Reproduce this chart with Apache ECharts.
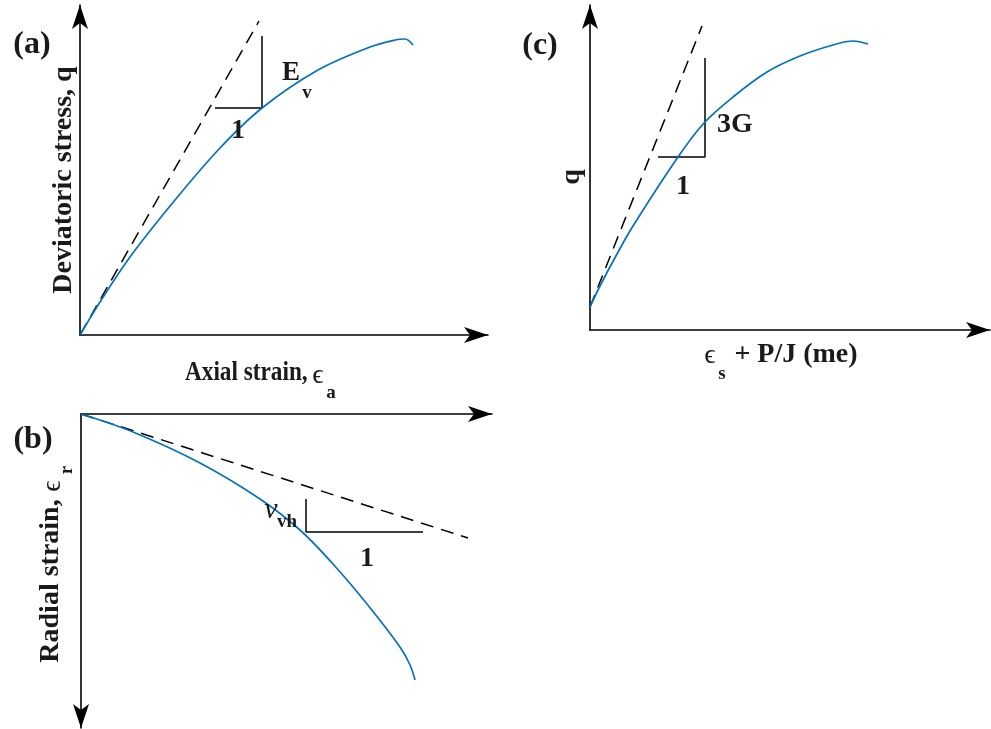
<!DOCTYPE html>
<html>
<head>
<meta charset="utf-8">
<script src="https://cdn.jsdelivr.net/npm/echarts@6/dist/echarts.min.js"></script>
<style>
html,body{margin:0;padding:0;background:#fff;}
#c{width:991px;height:729px;}
</style>
</head>
<body>
<div id="c"></div>
<script>
// ---------------- DATA ----------------
// Panel (a): deviatoric stress q vs axial strain
const curveA_x = [0, 20, 50, 95, 140, 182, 238, 290, 315, 325, 333];
const curveA_y = [0, 33, 78, 135, 187, 227, 265, 288, 295, 296, 290];
const tangentA_x = [0, 179];
const tangentA_y = [0, 314];
const slopeA_x = [135, 182, 182];
const slopeA_y = [227, 227, 299];

// Panel (b): radial strain vs axial strain (radial strain grows downward)
const curveB_x = [0, 52, 119, 179, 219, 252, 286, 319, 329, 334];
const curveB_y = [0, 18, 49, 85, 116, 150, 190, 233, 251, 266];
const tangentB_x = [0, 387];
const tangentB_y = [0, 124];
const slopeB_x = [225, 225, 342];
const slopeB_y = [85, 118, 118];

// Panel (c): q vs eps_s + P/J
const curveC_x = [0, 10, 27, 43, 88, 114, 143, 177, 210, 243, 263, 278];
const curveC_y = [23, 44, 76, 104, 173, 207, 233, 258, 274, 285, 289, 286];
const tangentC_x = [0, 112];
const tangentC_y = [23, 304];
const slopeC_x = [68, 115, 115];
const slopeC_y = [173, 173, 272];

// Axis extents (no ticks are shown in the reference)
const axisMaxA = [408, 330];
const axisMaxB = [411, 314];
const axisMaxC = [400, 325];

// Text content
const panelLabels = ['(a)', '(b)', '(c)'];
const titleA_y = 'Deviatoric stress, q';
const titleA_x = 'Axial strain,';
const titleB_y = 'Radial strain,';
const titleC_y = 'q';
const titleC_x = '+ P/J (me)';
const epsGlyph = '\u03F5';
const slopeLabelsA = ['E', 'v', '1'];
const slopeLabelsB = ['\u03BD', 'vh', '1'];
const slopeLabelsC = ['3G', '1'];

// ---------------- helpers ----------------
function zip(xs, ys) { return xs.map((x, i) => [x, ys[i]]); }

const BLUE = '#0072BD';
const INK = '#1a1a1a';
const SERIF = "'Liberation Serif','Times New Roman','DejaVu Serif',serif";

function makeAxis(gridIndex, max, extra, arrowAtStart) {
  return Object.assign({
    type: 'value', gridIndex: gridIndex, min: 0, max: max,
    axisLine: { show: true, onZero: false,
                symbol: arrowAtStart ? ['arrow', 'none'] : ['none', 'arrow'], symbolSize: [12, 24],
                lineStyle: { color: '#000', width: 1.6 } },
    axisTick: { show: false }, axisLabel: { show: false }, splitLine: { show: false }
  }, extra || {});
}

function curve(xi, yi, data) {
  return { type: 'line', xAxisIndex: xi, yAxisIndex: yi, data: data, smooth: 0.35,
           showSymbol: false, silent: true, lineStyle: { color: BLUE, width: 1.7 }, z: 3 };
}
function dashed(xi, yi, data) {
  return { type: 'line', xAxisIndex: xi, yAxisIndex: yi, data: data, showSymbol: false, silent: true,
           lineStyle: { color: '#000', width: 1.5, type: [13, 8] }, z: 2 };
}
function solid(xi, yi, data) {
  return { type: 'line', xAxisIndex: xi, yAxisIndex: yi, data: data, showSymbol: false, silent: true,
           lineStyle: { color: '#000', width: 1.5 }, z: 2 };
}

const chart = echarts.init(document.getElementById('c'), null, { renderer: 'canvas' });

const option = {
  animation: false,
  backgroundColor: '#fff',
  grid: [
    { left: 80, top: 5, right: 503, bottom: 394 },
    { left: 81, top: 414, right: 499, bottom: 1 },
    { left: 590, top: 5, right: 1, bottom: 399 }
  ],
  xAxis: [
    makeAxis(0, axisMaxA[0]),
    makeAxis(1, axisMaxB[0], { position: 'top' }),
    makeAxis(2, axisMaxC[0])
  ],
  yAxis: [
    makeAxis(0, axisMaxA[1]),
    makeAxis(1, axisMaxB[1], { inverse: true }, true),
    makeAxis(2, axisMaxC[1])
  ],
  series: [
    dashed(0, 0, zip(tangentA_x, tangentA_y)),
    solid(0, 0, zip(slopeA_x, slopeA_y)),
    curve(0, 0, zip(curveA_x, curveA_y)),
    dashed(1, 1, zip(tangentB_x, tangentB_y)),
    solid(1, 1, zip(slopeB_x, slopeB_y)),
    curve(1, 1, zip(curveB_x, curveB_y)),
    dashed(2, 2, zip(tangentC_x, tangentC_y)),
    solid(2, 2, zip(slopeC_x, slopeC_y)),
    curve(2, 2, zip(curveC_x, curveC_y))
  ]
};
chart.setOption(option);

// ---------------- text layout ----------------
function txt(text, x, y, size, opts) {
  opts = opts || {};
  return {
    type: 'text', x: x, y: y, rotation: opts.rot || 0, scaleX: opts.sx || 1, scaleY: opts.sy || 1,
    z: 10, silent: true,
    style: {
      text: text,
      font: (opts.italic ? 'italic ' : '') + (opts.normal ? 'normal ' : 'bold ') + size + 'px ' + SERIF,
      fill: INK, textAlign: opts.align || 'center', textVerticalAlign: 'middle'
    }
  };
}
function at(grid, pt) { return chart.convertToPixel({ gridIndex: grid }, pt); }

// anchors for slope annotations, in data units of each panel
const pA_E = at(0, [211, 262]), pA_v = at(0, [227, 242]), pA_1 = at(0, [158, 204]);
const pB_nu = at(1, [190, 96]), pB_vh = at(1, [206, 108]), pB_1 = at(1, [286, 145]);
const pC_3G = at(2, [145, 205]), pC_1 = at(2, [93, 143]);

const g = [
  txt(panelLabels[0], 32, 45, 32),
  txt(panelLabels[1], 33, 440, 32),
  txt(panelLabels[2], 540, 46, 32),
  // panel (a) titles
  txt(titleA_y, 64, 180, 28, { rot: Math.PI / 2 }),
  txt(titleA_x, 185, 373, 28, { align: 'left', sx: 0.83 }),
  txt(epsGlyph, 318, 376, 28, { normal: true }),
  txt('a', 331, 393, 19),
  // panel (b) titles
  txt(titleB_y, 51, 581, 28, { rot: Math.PI / 2 }),
  txt(epsGlyph, 53, 486, 28, { normal: true, rot: Math.PI / 2 }),
  txt('r', 67, 470, 19, { rot: Math.PI / 2 }),
  // panel (c) titles
  txt(titleC_y, 572, 177, 28, { rot: Math.PI / 2 }),
  txt(epsGlyph, 710, 356, 28, { normal: true }),
  txt('s', 722, 374, 19),
  txt(titleC_x, 796, 355, 28),
  // slope annotations
  txt(slopeLabelsA[0], pA_E[0], pA_E[1], 27),
  txt(slopeLabelsA[1], pA_v[0], pA_v[1], 19),
  txt(slopeLabelsA[2], pA_1[0], pA_1[1], 28),
  txt(slopeLabelsB[0], pB_nu[0], pB_nu[1], 30, { italic: true, normal: true }),
  txt(slopeLabelsB[1], pB_vh[0], pB_vh[1], 19),
  txt(slopeLabelsB[2], pB_1[0], pB_1[1], 28),
  txt(slopeLabelsC[0], pC_3G[0], pC_3G[1], 28),
  txt(slopeLabelsC[1], pC_1[0], pC_1[1], 28)
];
chart.setOption({ graphic: g });
</script>
</body>
</html>
